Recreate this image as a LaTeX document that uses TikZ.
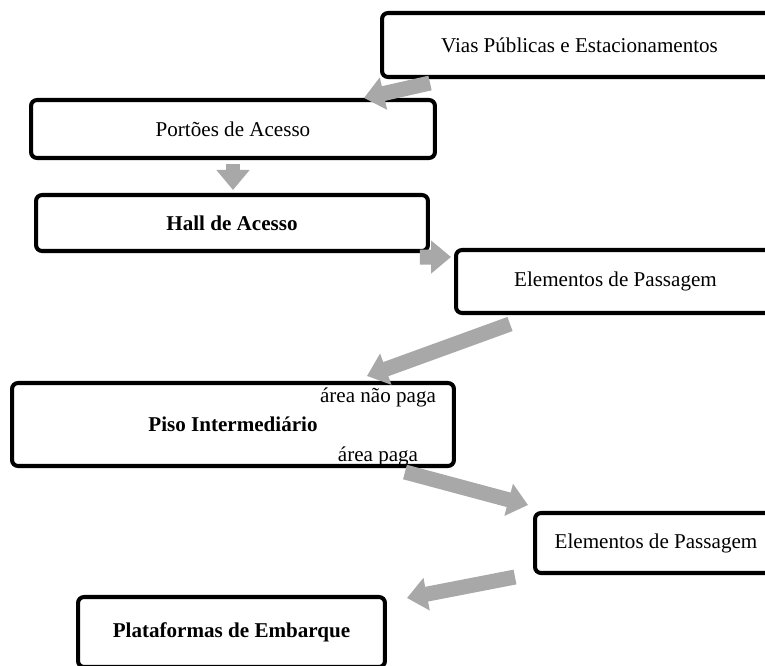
\documentclass[tikz,border=0pt]{standalone}
\usepackage{fontspec}
\setmainfont{Liberation Serif}
\usepackage{xcolor}
\usepackage{tikz}
\usetikzlibrary{positioning,arrows.meta}
\definecolor{flowgray}{RGB}{168,168,168}

\begin{document}
\begin{tikzpicture}[
  x=0.02cm, y=-0.02cm,
  box/.style={draw, line width=2.3pt, rounded corners=0.12cm, fill=white, align=center, font=\fontsize{12}{14}\selectfont},
  lbl/.style={inner sep=0pt, font=\fontsize{12}{14}\selectfont},
  flow/.style={-{Triangle[width=0.64cm, length=0.4cm]}, line width=0.3cm, draw=flowgray}
]
\clip (0,0) rectangle (765,666);
\node[box, minimum width=7.9cm, minimum height=1.28cm] (vias) at (579.5,45) {Vias Públicas e Estacionamentos};
\node[box, minimum width=8.08cm, minimum height=1.16cm] (portoes) at (233,129) {Portões de Acesso};
\node[box, minimum width=7.84cm, minimum height=1.12cm] (hall) at (232,223) {\textbf{Hall de Acesso}};
\node[box, minimum width=6.38cm, minimum height=1.26cm] (elem1) at (615.5,281.5) {Elementos de Passagem};
\node[box, minimum width=8.84cm, minimum height=1.66cm] (piso) at (233,424.5) {\textbf{Piso Intermediário}};
\node[lbl] (naopaga) at (378,397) {área não paga};
\node[lbl] (paga) at (378,456) {área paga};
\node[box, minimum width=4.84cm, minimum height=1.2cm] (elem2) at (656,543) {Elementos de Passagem};
\node[box, minimum width=6.14cm, minimum height=1.4cm] (plat) at (231.5,632) {\textbf{Plataformas de Embarque}};

\draw[flow] ([shift={(50,4)}]vias.south west) -- ([shift={(-73,0)}]portoes.north east);
\draw[flow] ([shift={(0,4)}]portoes.south) -- ([shift={(1,-3)}]hall.north);
\draw[flow] ([shift={(-10,4)}]hall.south east) -- ([shift={(-3,9)}]elem1.north west);
\draw[flow] ([shift={(56,9)}]elem1.south west) -- ([shift={(-89,-5)}]piso.north east);
\draw[flow] ([shift={(-51,4)}]piso.south east) -- ([shift={(-5,-6)}]elem2.north west);
\draw[flow] ([shift={(-18,2)}]elem2.south west) -- ([shift={(20,3)}]plat.north east);
\end{tikzpicture}
\end{document}
